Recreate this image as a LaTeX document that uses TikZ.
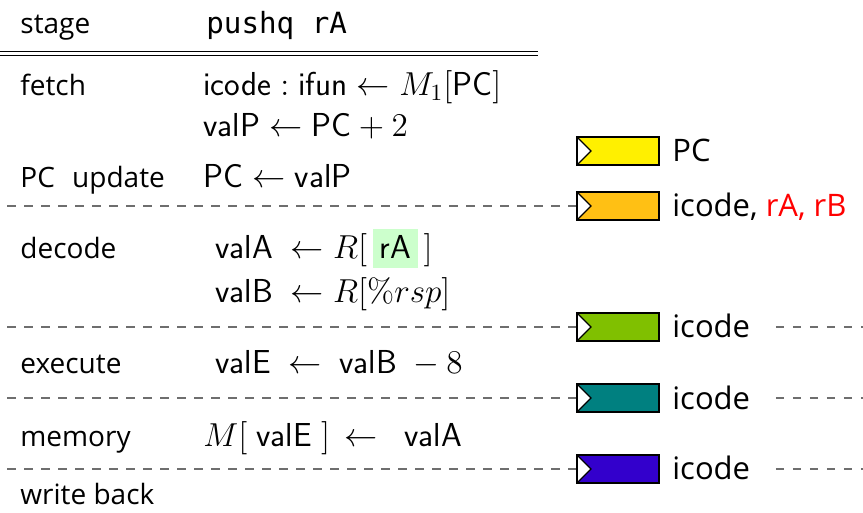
\RequirePackage{fix-cm}
\documentclass[tikz,border=0pt]{standalone}
\usepackage{amsmath}
\usepackage[no-math]{fontspec}
\setmainfont{Open Sans}
\newfontfamily\instrfont{DejaVu Sans Mono}
\usetikzlibrary{positioning}

\definecolor{regPC}{RGB}{255,240,0}
\definecolor{regD}{RGB}{255,192,20}
\definecolor{regE}{RGB}{128,192,0}
\definecolor{regM}{RGB}{0,128,128}
\definecolor{regW}{RGB}{51,0,204}
\definecolor{hlgreen}{RGB}{204,255,204}
\definecolor{dashgray}{RGB}{110,110,110}

\newcommand\szL{\fontsize{14}{17}\selectfont}
\newcommand\szM{\fontsize{16.6}{20}\selectfont}
\newcommand\szR{\fontsize{15.5}{18}\selectfont}
\newcommand\hlreg[1]{{\setlength\fboxsep{0pt}\colorbox{hlgreen}{\rule[-4.5pt]{0pt}{19.5pt}\hspace{3.5pt}#1\hspace{3.5pt}}}}

\begin{document}
\begin{tikzpicture}[x=0.5pt,y=-0.5pt,
lbl/.style={anchor=base west,inner sep=0pt,font=\szL},
op/.style={anchor=base west,inner sep=0pt,font=\szM},
rlbl/.style={anchor=base west,inner sep=0pt,font=\szR},
reg/.style={draw,line width=0.6pt,minimum width=41pt,minimum height=14pt,inner sep=0pt,
  path picture={\draw[fill=white,line width=0.6pt] (path picture bounding box.north west)
    -- ([xshift=7pt]path picture bounding box.west) -- (path picture bounding box.south west) -- cycle;}},
sep/.style={draw=dashgray,line width=0.8pt,dash pattern=on 4.25pt off 4.25pt,dash phase=4.85pt}]
\useasboundingbox (0,0) rectangle (863,513);

% header
\node[lbl] (hStage) at (20,34) {stage};
\node[lbl,font=\fontsize{14.6}{17}\instrfont] (hInstr) at (206,34) {pushq rA};
\draw[line width=0.5pt] (0,52) -- (538,52);
\draw[line width=0.5pt] (0,55.5) -- (538,55.5);

% stages
\node[lbl] (sF) at (20,96) {fetch};
\node[op] (fF1) at (203,96) {$\textsf{icode} : \textsf{ifun} \leftarrow M_1[\textsf{PC}]$};
\node[op] (fF2) at (203,137) {$\textsf{valP} \leftarrow \textsf{PC} + 2$};
\node[lbl] (sP) at (20,188) {PC\hspace{5pt} update};
\node[op] (fP) at (203,188) {$\textsf{PC} \leftarrow \textsf{valP}$};
\node[lbl] (sD) at (20,259) {decode};
\node[op] (fD1) at (215,259) {$\textsf{valA}\ \leftarrow R[\,\hlreg{\textsf{rA}}\,]$};
\node[op] (fD2) at (215,303) {$\textsf{valB}\ \leftarrow R[\%rsp]$};
\node[lbl] (sE) at (20,374) {execute};
\node[op] (fE) at (215,374) {$\textsf{valE}\ \leftarrow\ \textsf{valB}\ - 8$};
\node[lbl] (sM) at (20,447) {memory};
\node[op] (fM) at (203,447) {$M[\;\textsf{valE}\;]\,\leftarrow\ \ \textsf{valA}$};
\node[lbl] (sW) at (20,504) {write back};

% pipeline registers
\node[reg,fill=regPC] (rPC) at (618,151) {};
\node[reg,fill=regD] (rD) at (618,206) {};
\node[reg,fill=regE] (rE) at (618,327) {};
\node[reg,fill=regM] (rM) at (618,398) {};
\node[reg,fill=regW] (rW) at (618,469) {};
\node[rlbl] (lPC) at (672,162) {PC};
\node[rlbl] (lD) at (672,217) {icode, \textcolor{red}{rA, rB}};
\node[rlbl] (lE) at (672,338) {icode};
\node[rlbl] (lM) at (672,409) {icode};
\node[rlbl] (lW) at (672,480) {icode};

% stage boundaries
\coordinate (bD) at (0,206);
\coordinate (bE) at (0,327);
\coordinate (bM) at (0,398);
\coordinate (bW) at (0,469);
\coordinate (eE) at (863,327);
\coordinate (eM) at (863,398);
\coordinate (eW) at (863,469);
\draw[sep] (bD) -- (rD.west);
\draw[sep] (bE) -- (rE.west);
\draw[sep] (bM) -- (rM.west);
\draw[sep] (bW) -- (rW.west);
\draw[sep] ([xshift=9pt]lE.east |- rE) -- (eE);
\draw[sep] ([xshift=9pt]lM.east |- rM) -- (eM);
\draw[sep] ([xshift=9pt]lW.east |- rW) -- (eW);
\end{tikzpicture}
\end{document}
